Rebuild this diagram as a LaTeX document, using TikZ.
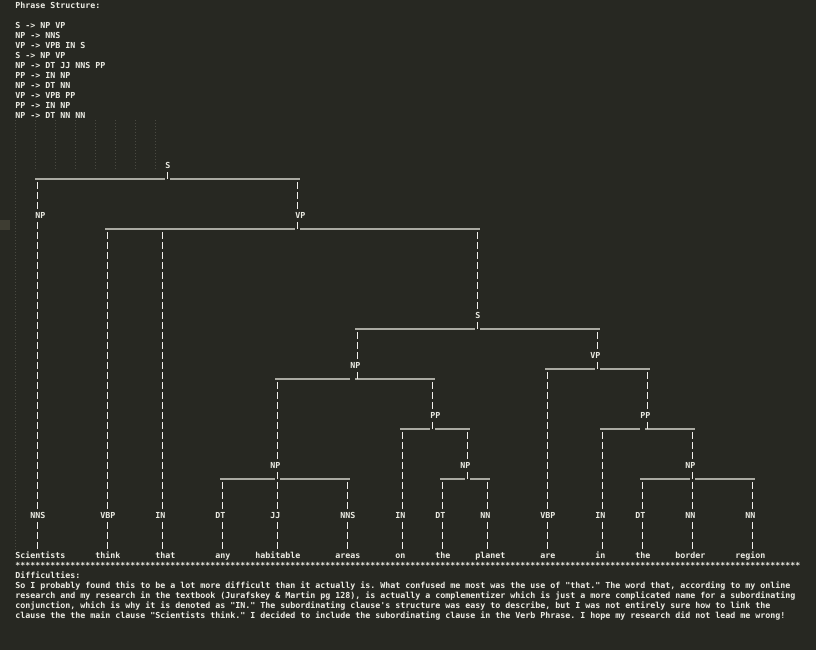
\documentclass[tikz,border=0pt]{standalone}
\usepackage{fontspec}
\newfontfamily\termfamily{DejaVu Sans Mono}
\newcommand\termfont{\termfamily\bfseries\fontsize{6.23pt}{7.5pt}\selectfont\frenchspacing}
\definecolor{bg}{RGB}{39,40,34}
\definecolor{fg}{RGB}{236,236,228}
\definecolor{barc}{RGB}{242,240,236}
\definecolor{linec}{RGB}{170,170,162}
\definecolor{guidec}{RGB}{74,74,66}
\definecolor{gutterc}{RGB}{62,61,50}
% connectors: #1 = x of the bar column
\newcommand\tstem[2]{\draw[bar] (#1,0 |- #2.south) ++(0,2) -- ++(0,7);}
\newcommand\tlink[3]{\draw[bar,shorten >=0.75pt] (#1,0 |- #2.south) ++(0,12) -- (#1,0 |- #3.north);}
\newcommand\tdrop[3]{\draw[bar,shorten >=0.75pt] (#1,0 |- #2.south) ++(0,2) -- (#1,0 |- #3.north);}
\newcommand\trule[3]{\draw[rule] (#2,#1) -- (#3,#1);}
\begin{document}
\begin{tikzpicture}[x=0.75pt,y=-0.75pt,
  lbl/.style={font=\termfont, text=fg, inner sep=0pt, anchor=base west, text height=6pt, text depth=1.5pt},
  txt/.style={font=\termfont, text=fg, inner sep=0pt, anchor=base west},
  bar/.style={draw=barc, line width=0.8pt, dash pattern=on 5.25pt off 2.25pt},
  rule/.style={draw=linec, line width=1.2pt},
  guide/.style={draw=guidec, line width=0.7pt, dash pattern=on 0.75pt off 1.5pt}]
\fill[bg] (0,0) rectangle (816,650);
\useasboundingbox (0,0) rectangle (816,650);
\fill[gutterc] (0,220) rectangle (10,230);
% indentation guides
\draw[guide] (15.5,120) -- (15.5,550);
\foreach \gx in {35.5,55.5,75.5,95.5,115.5,135.5,155.5} {\draw[guide] (\gx,120) -- (\gx,170);}
% header
\node[txt] (h0) at (15,8) {Phrase Structure:};
\node[txt] (h2) at (15,28) {S -> NP VP};
\node[txt] (h3) at (15,38) {NP -> NNS};
\node[txt] (h4) at (15,48) {VP -> VPB IN S};
\node[txt] (h5) at (15,58) {S -> NP VP};
\node[txt] (h6) at (15,68) {NP -> DT JJ NNS PP};
\node[txt] (h7) at (15,78) {PP -> IN NP};
\node[txt] (h8) at (15,88) {NP -> DT NN};
\node[txt] (h9) at (15,98) {VP -> VPB PP};
\node[txt] (h10) at (15,108) {PP -> IN NP};
\node[txt] (h11) at (15,118) {NP -> DT NN NN};
% tree labels
\node[lbl] (S0) at (165,168) {S};
\node[lbl] (NP1) at (35,218) {NP};
\node[lbl] (VP1) at (295,218) {VP};
\node[lbl] (S1) at (475,318) {S};
\node[lbl] (VP2) at (590,358) {VP};
\node[lbl] (NP2) at (350,368) {NP};
\node[lbl] (PP1) at (430,418) {PP};
\node[lbl] (PP2) at (640,418) {PP};
\node[lbl] (NP3) at (270,468) {NP};
\node[lbl] (NP4) at (460,468) {NP};
\node[lbl] (NP5) at (685,468) {NP};
\node[lbl] (t1) at (30,518) {NNS};
\node[lbl] (t2) at (100,518) {VBP};
\node[lbl] (t3) at (155,518) {IN};
\node[lbl] (t4) at (215,518) {DT};
\node[lbl] (t5) at (270,518) {JJ};
\node[lbl] (t6) at (340,518) {NNS};
\node[lbl] (t7) at (395,518) {IN};
\node[lbl] (t8) at (435,518) {DT};
\node[lbl] (t9) at (480,518) {NN};
\node[lbl] (t10) at (540,518) {VBP};
\node[lbl] (t11) at (595,518) {IN};
\node[lbl] (t12) at (635,518) {DT};
\node[lbl] (t13) at (685,518) {NN};
\node[lbl] (t14) at (745,518) {NN};
\node[lbl] (w1) at (15,558) {Scientists};
\node[lbl] (w2) at (95,558) {think};
\node[lbl] (w3) at (155,558) {that};
\node[lbl] (w4) at (215,558) {any};
\node[lbl] (w5) at (255,558) {habitable};
\node[lbl] (w6) at (335,558) {areas};
\node[lbl] (w7) at (395,558) {on};
\node[lbl] (w8) at (435,558) {the};
\node[lbl] (w9) at (475,558) {planet};
\node[lbl] (w10) at (540,558) {are};
\node[lbl] (w11) at (595,558) {in};
\node[lbl] (w12) at (635,558) {the};
\node[lbl] (w13) at (675,558) {border};
\node[lbl] (w14) at (735,558) {region};
% horizontal rules (underscore rows)
\trule{178.8}{35}{165}\trule{178.8}{170}{300}
\trule{228.8}{105}{295}\trule{228.8}{300}{480}
\trule{328.8}{355}{475}\trule{328.8}{480}{600}
\trule{368.8}{545}{595}\trule{368.8}{600}{650}
\trule{378.8}{275}{350}\trule{378.8}{355}{435}
\trule{428.8}{400}{430}\trule{428.8}{435}{470}
\trule{428.8}{600}{640}\trule{428.8}{645}{695}
\trule{478.8}{220}{275}\trule{478.8}{280}{350}
\trule{478.8}{440}{465}\trule{478.8}{470}{490}
\trule{478.8}{640}{690}\trule{478.8}{695}{755}
% S
\tstem{167.5}{S0}
\tlink{37.5}{S0}{NP1}
\tlink{297.5}{S0}{VP1}
\tdrop{37.5}{NP1}{t1}
% VP
\tstem{297.5}{VP1}
\tlink{107.5}{VP1}{t2}
\tlink{162.5}{VP1}{t3}
\tlink{477.5}{VP1}{S1}
% S (embedded)
\tstem{477.5}{S1}
\tlink{357.5}{S1}{NP2}
\tlink{597.5}{S1}{VP2}
% VP (embedded)
\tstem{597.5}{VP2}
\tlink{547.5}{VP2}{t10}
\tlink{647.5}{VP2}{PP2}
% NP (embedded)
\tstem{357.5}{NP2}
\tlink{277.5}{NP2}{NP3}
\tlink{432.5}{NP2}{PP1}
% PPs
\tstem{432.5}{PP1}
\tlink{402.5}{PP1}{t7}
\tlink{467.5}{PP1}{NP4}
\tstem{647.5}{PP2}
\tlink{602.5}{PP2}{t11}
\tlink{692.5}{PP2}{NP5}
% lowest NPs
\tstem{277.5}{NP3}
\tlink{222.5}{NP3}{t4}
\tlink{277.5}{NP3}{t5}
\tlink{347.5}{NP3}{t6}
\tstem{467.5}{NP4}
\tlink{442.5}{NP4}{t8}
\tlink{487.5}{NP4}{t9}
\tstem{692.5}{NP5}
\tlink{642.5}{NP5}{t12}
\tlink{692.5}{NP5}{t13}
\tlink{752.5}{NP5}{t14}
% tags to words
\tdrop{37.5}{t1}{w1}
\tdrop{107.5}{t2}{w2}
\tdrop{162.5}{t3}{w3}
\tdrop{222.5}{t4}{w4}
\tdrop{277.5}{t5}{w5}
\tdrop{347.5}{t6}{w6}
\tdrop{402.5}{t7}{w7}
\tdrop{442.5}{t8}{w8}
\tdrop{487.5}{t9}{w9}
\tdrop{547.5}{t10}{w10}
\tdrop{602.5}{t11}{w11}
\tdrop{642.5}{t12}{w12}
\tdrop{692.5}{t13}{w13}
\tdrop{752.5}{t14}{w14}
% bottom text
\node[txt] (stars) at (15,568) {*************************************************************************************************************************************************************};
\node[txt] (d0) at (15,578) {Difficulties:};
\node[txt] (d1) at (15,588) {So I probably found this to be a lot more difficult than it actually is. What confused me most was the use of "that." The word that, according to my online};
\node[txt] (d2) at (15,598) {research and my research in the textbook (Jurafskey \& Martin pg 128), is actually a complementizer which is just a more complicated name for a subordinating};
\node[txt] (d3) at (15,608) {conjunction, which is why it is denoted as "IN." The subordinating clause's structure was easy to describe, but I was not entirely sure how to link the};
\node[txt] (d4) at (15,618) {clause the the main clause "Scientists think." I decided to include the subordinating clause in the Verb Phrase. I hope my research did not lead me wrong!};
\end{tikzpicture}
\end{document}
